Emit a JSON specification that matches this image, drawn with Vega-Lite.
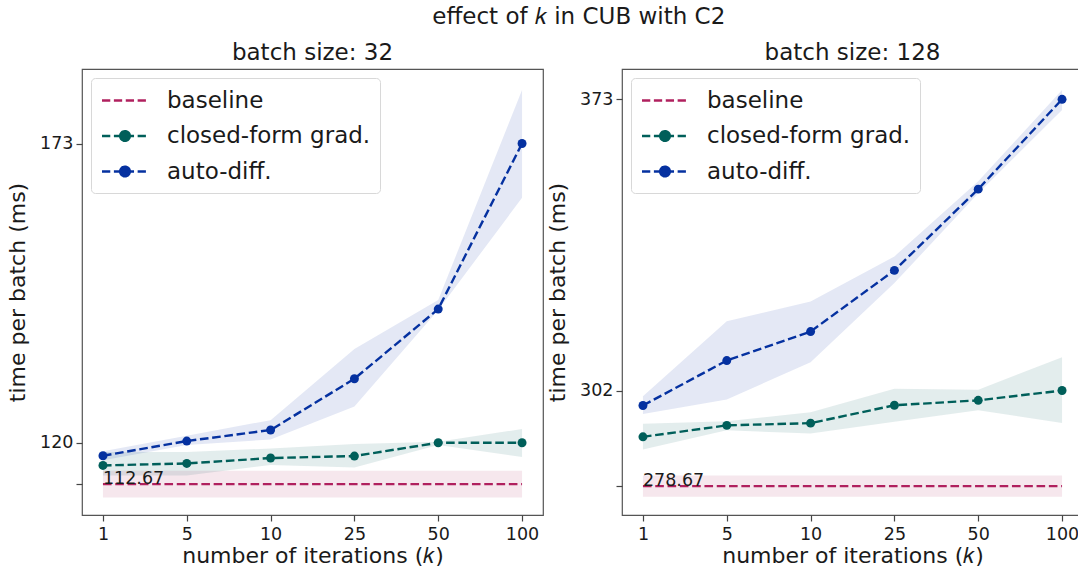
{
  "$schema": "https://vega.github.io/schema/vega-lite/v6.json",
  "padding": {"left": 5, "top": 5, "right": 0, "bottom": 0},
  "title": {"text": "effect of 𝑘 in CUB with C2", "fontSize": 23, "anchor": "middle", "offset": 12.5, "dx": 34},
  "spacing": 79,
  "bounds": "flush",
  "datasets": {
    "d": [
      {"panel": "32", "series": "baseline", "k": "1", "v": 112.67, "lo": 110.32, "hi": 115.02},
      {"panel": "32", "series": "baseline", "k": "5", "v": 112.67, "lo": 110.32, "hi": 115.02},
      {"panel": "32", "series": "baseline", "k": "10", "v": 112.67, "lo": 110.32, "hi": 115.02},
      {"panel": "32", "series": "baseline", "k": "25", "v": 112.67, "lo": 110.32, "hi": 115.02},
      {"panel": "32", "series": "baseline", "k": "50", "v": 112.67, "lo": 110.32, "hi": 115.02},
      {"panel": "32", "series": "baseline", "k": "100", "v": 112.67, "lo": 110.32, "hi": 115.02},
      {"panel": "32", "series": "closed-form grad.", "k": "1", "v": 115.98, "lo": 114.2, "hi": 118.35},
      {"panel": "32", "series": "closed-form grad.", "k": "5", "v": 116.33, "lo": 114.2, "hi": 118.35},
      {"panel": "32", "series": "closed-form grad.", "k": "10", "v": 117.29, "lo": 116.05, "hi": 118.99},
      {"panel": "32", "series": "closed-form grad.", "k": "25", "v": 117.64, "lo": 115.63, "hi": 119.77},
      {"panel": "32", "series": "closed-form grad.", "k": "50", "v": 120.0, "lo": 119.6, "hi": 120.18},
      {"panel": "32", "series": "closed-form grad.", "k": "100", "v": 120.0, "lo": 117.47, "hi": 122.43},
      {"panel": "32", "series": "auto-diff.", "k": "1", "v": 117.7, "lo": 116.9, "hi": 118.5},
      {"panel": "32", "series": "auto-diff.", "k": "5", "v": 120.3, "lo": 119.6, "hi": 121.24},
      {"panel": "32", "series": "auto-diff.", "k": "10", "v": 122.25, "lo": 120.58, "hi": 124.0},
      {"panel": "32", "series": "auto-diff.", "k": "25", "v": 131.33, "lo": 126.4, "hi": 136.6},
      {"panel": "32", "series": "auto-diff.", "k": "50", "v": 143.68, "lo": 143.5, "hi": 145.27},
      {"panel": "32", "series": "auto-diff.", "k": "100", "v": 173.0, "lo": 163.39, "hi": 182.46},
      {"panel": "128", "series": "baseline", "k": "1", "v": 278.67, "lo": 276.07, "hi": 281.27},
      {"panel": "128", "series": "baseline", "k": "5", "v": 278.67, "lo": 276.07, "hi": 281.27},
      {"panel": "128", "series": "baseline", "k": "10", "v": 278.67, "lo": 276.07, "hi": 281.27},
      {"panel": "128", "series": "baseline", "k": "25", "v": 278.67, "lo": 276.07, "hi": 281.27},
      {"panel": "128", "series": "baseline", "k": "50", "v": 278.67, "lo": 276.07, "hi": 281.27},
      {"panel": "128", "series": "baseline", "k": "100", "v": 278.67, "lo": 276.07, "hi": 281.27},
      {"panel": "128", "series": "closed-form grad.", "k": "1", "v": 290.7, "lo": 287.6, "hi": 293.9},
      {"panel": "128", "series": "closed-form grad.", "k": "5", "v": 293.5, "lo": 292.3, "hi": 294.5},
      {"panel": "128", "series": "closed-form grad.", "k": "10", "v": 294.04, "lo": 291.5, "hi": 296.7},
      {"panel": "128", "series": "closed-form grad.", "k": "25", "v": 298.4, "lo": 294.4, "hi": 302.4},
      {"panel": "128", "series": "closed-form grad.", "k": "50", "v": 299.6, "lo": 297.2, "hi": 302.2},
      {"panel": "128", "series": "closed-form grad.", "k": "100", "v": 302.0, "lo": 294.1, "hi": 310.1},
      {"panel": "128", "series": "auto-diff.", "k": "1", "v": 298.35, "lo": 296.3, "hi": 300.6},
      {"panel": "128", "series": "auto-diff.", "k": "5", "v": 309.3, "lo": 299.8, "hi": 318.9},
      {"panel": "128", "series": "auto-diff.", "k": "10", "v": 316.37, "lo": 308.9, "hi": 323.7},
      {"panel": "128", "series": "auto-diff.", "k": "25", "v": 331.3, "lo": 328.2, "hi": 334.7},
      {"panel": "128", "series": "auto-diff.", "k": "50", "v": 351.1, "lo": 350.1, "hi": 353.0},
      {"panel": "128", "series": "auto-diff.", "k": "100", "v": 373.0, "lo": 370.4, "hi": 375.3}
    ]
  },
  "hconcat": [
    {
      "width": 461, "height": 446,
      "title": {"text": "batch size: 32", "fontSize": 23, "offset": -14, "baseline": "alphabetic"},
      "data": {"name": "d"},
      "transform": [{"filter": "datum.panel == '32'"}],
      "encoding": {
        "x": {"field": "k", "type": "ordinal", "sort": ["1", "5", "10", "25", "50", "100"], "scale": {"type": "point", "padding": 0.25}, "axis": {"title": "number of iterations (𝑘)", "labelAngle": 0}},
        "color": {
          "field": "series", "type": "nominal",
          "scale": {"domain": ["baseline", "closed-form grad.", "auto-diff."], "range": ["#b0205e", "#005f5a", "#0531a0"]},
          "legend": {
            "title": null, "orient": "top-left", "offset": 9, "padding": 9.5,
            "fillColor": "rgba(255,255,255,0.85)", "strokeColor": "#d8d8d8", "cornerRadius": 4,
            "labelFontSize": 23, "labelColor": "#1a1a1a", "labelOffset": 40.5, "labelLimit": 500, "rowPadding": 10.5,
            "symbolSize": 529, "symbolOpacity": 1, "symbolDash": [1, 0], "symbolStrokeWidth": 2.4,
            "encode": {"symbols": {"update": {
              "shape": {"signal": "datum.value === 'baseline' ? 'M-1,0H-0.28M0.033,0H0.753M1.066,0H1.786M2.099,0H2.819' : 'M-1,0H-0.28M0.033,0H0.753M1.066,0H1.786M2.099,0H2.819M1.42,0A0.42,0.42,0,1,1,0.58,0A0.42,0.42,0,1,1,1.42,0Z'"},
              "stroke": {"signal": "datum.value === 'baseline' ? '#b0205e' : (datum.value === 'auto-diff.' ? '#0531a0' : '#005f5a')"},
              "fill": {"signal": "datum.value === 'baseline' ? 'transparent' : (datum.value === 'auto-diff.' ? '#0531a0' : '#005f5a')"},
              "strokeWidth": {"value": 2.4},
              "opacity": {"value": 1},
              "strokeDash": {"value": [1, 0]}
            }}}
          }
        }
      },
      "layer": [
        {"mark": {"type": "area", "opacity": 0.11}, "encoding": {
          "y": {"field": "lo", "type": "quantitative", "stack": null, "scale": {"domain": [107.2, 186.2], "nice": false, "zero": false}, "axis": {"title": "time per batch (ms)", "values": [112.67, 120, 173], "labelExpr": "datum.value < 115 ? '' : format(datum.value, 'd')"}},
          "y2": {"field": "hi"}}},
        {"mark": {"type": "line", "strokeDash": [8.6, 3.7], "strokeWidth": 2.4}, "encoding": {"y": {"field": "v", "type": "quantitative"}}},
        {"transform": [{"filter": "datum.series != 'baseline'"}], "mark": {"type": "point", "filled": true, "size": 80, "opacity": 1}, "encoding": {"y": {"field": "v", "type": "quantitative"}}},
        {"transform": [{"filter": "datum.series == 'baseline' && datum.k == '1'"}], "mark": {"type": "text", "align": "left", "baseline": "alphabetic", "fontSize": 17.5}, "encoding": {"y": {"field": "v", "type": "quantitative"}, "text": {"field": "v", "type": "quantitative", "format": ".2f"}, "color": {"value": "#1a1a1a"}}}
      ]
    },
    {
      "width": 461, "height": 446,
      "title": {"text": "batch size: 128", "fontSize": 23, "offset": -14, "baseline": "alphabetic"},
      "data": {"name": "d"},
      "transform": [{"filter": "datum.panel == '128'"}],
      "encoding": {
        "x": {"field": "k", "type": "ordinal", "sort": ["1", "5", "10", "25", "50", "100"], "scale": {"type": "point", "padding": 0.25}, "axis": {"title": "number of iterations (𝑘)", "labelAngle": 0}},
        "color": {
          "field": "series", "type": "nominal",
          "scale": {"domain": ["baseline", "closed-form grad.", "auto-diff."], "range": ["#b0205e", "#005f5a", "#0531a0"]},
          "legend": {
            "title": null, "orient": "top-left", "offset": 9, "padding": 9.5,
            "fillColor": "rgba(255,255,255,0.85)", "strokeColor": "#d8d8d8", "cornerRadius": 4,
            "labelFontSize": 23, "labelColor": "#1a1a1a", "labelOffset": 40.5, "labelLimit": 500, "rowPadding": 10.5,
            "symbolSize": 529, "symbolOpacity": 1, "symbolDash": [1, 0], "symbolStrokeWidth": 2.4,
            "encode": {"symbols": {"update": {
              "shape": {"signal": "datum.value === 'baseline' ? 'M-1,0H-0.28M0.033,0H0.753M1.066,0H1.786M2.099,0H2.819' : 'M-1,0H-0.28M0.033,0H0.753M1.066,0H1.786M2.099,0H2.819M1.42,0A0.42,0.42,0,1,1,0.58,0A0.42,0.42,0,1,1,1.42,0Z'"},
              "stroke": {"signal": "datum.value === 'baseline' ? '#b0205e' : (datum.value === 'auto-diff.' ? '#0531a0' : '#005f5a')"},
              "fill": {"signal": "datum.value === 'baseline' ? 'transparent' : (datum.value === 'auto-diff.' ? '#0531a0' : '#005f5a')"},
              "strokeWidth": {"value": 2.4},
              "opacity": {"value": 1},
              "strokeDash": {"value": [1, 0]}
            }}}
          }
        }
      },
      "layer": [
        {"mark": {"type": "area", "opacity": 0.11}, "encoding": {
          "y": {"field": "lo", "type": "quantitative", "stack": null, "scale": {"domain": [271.64, 380.4], "nice": false, "zero": false}, "axis": {"title": "time per batch (ms)", "values": [278.67, 302, 373], "labelExpr": "datum.value < 280 ? '' : format(datum.value, 'd')"}},
          "y2": {"field": "hi"}}},
        {"mark": {"type": "line", "strokeDash": [8.6, 3.7], "strokeWidth": 2.4}, "encoding": {"y": {"field": "v", "type": "quantitative"}}},
        {"transform": [{"filter": "datum.series != 'baseline'"}], "mark": {"type": "point", "filled": true, "size": 80, "opacity": 1}, "encoding": {"y": {"field": "v", "type": "quantitative"}}},
        {"transform": [{"filter": "datum.series == 'baseline' && datum.k == '1'"}], "mark": {"type": "text", "align": "left", "baseline": "alphabetic", "fontSize": 17.5}, "encoding": {"y": {"field": "v", "type": "quantitative"}, "text": {"field": "v", "type": "quantitative", "format": ".2f"}, "color": {"value": "#1a1a1a"}}}
      ]
    }
  ],
  "resolve": {"scale": {"x": "independent", "y": "independent", "color": "independent"}, "legend": {"color": "independent"}},
  "config": {
    "font": "DejaVu Sans",
    "view": {"stroke": "#555555", "strokeWidth": 1.2},
    "axis": {"grid": false, "domain": false, "tickColor": "#444444", "tickSize": 6, "tickWidth": 1.2, "labelFontSize": 17.5, "labelColor": "#1a1a1a", "titleFontSize": 22, "titleFontWeight": "normal", "titleColor": "#1a1a1a", "labelPadding": 3},
    "axisY": {"titlePadding": 10},
    "axisX": {"titlePadding": 3, "labelPadding": 4},
    "title": {"font": "DejaVu Sans", "fontWeight": "normal", "color": "#1a1a1a"}
  }
}
